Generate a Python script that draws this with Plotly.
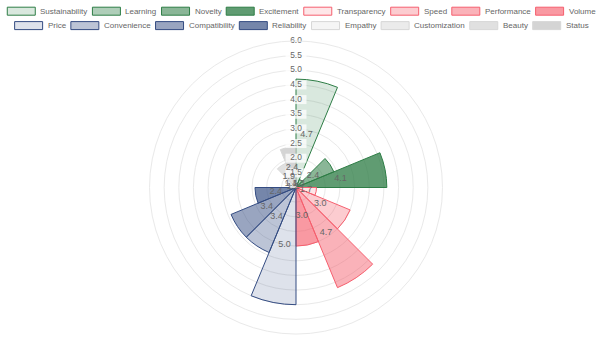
import plotly.graph_objects as go

# ---------------- data ----------------
CATEGORIES = ["Sustainability", "Learning", "Novelty", "Excitement",
              "Transparency", "Speed", "Performance", "Volume",
              "Price", "Convenience", "Compatibility", "Reliability",
              "Empathy", "Customization", "Beauty", "Status"]
VALUES = [4.7, 1.3, 2.4, 4.1,
          1.7, 3.0, 4.7, 3.0,
          5.0, 3.4, 3.4, 2.4,
          1.2, 1.4, 1.9, 2.4]
R_MIN, R_MAX, R_STEP = 1.0, 6.0, 0.5
TICKS = [1.5, 2.0, 2.5, 3.0, 3.5, 4.0, 4.5, 5.0, 5.5, 6.0]

# ---------------- styles ----------------
FILLS = ["rgba(46,125,70,0.18)", "rgba(46,125,70,0.38)", "rgba(46,125,70,0.56)", "rgba(46,125,70,0.76)",
         "rgba(245,85,100,0.15)", "rgba(245,85,100,0.30)", "rgba(245,85,100,0.45)", "rgba(245,85,100,0.60)",
         "rgba(52,76,130,0.16)", "rgba(52,76,130,0.33)", "rgba(52,76,130,0.50)", "rgba(52,76,130,0.68)",
         "rgba(170,170,170,0.12)", "rgba(170,170,170,0.24)", "rgba(170,170,170,0.36)", "rgba(170,170,170,0.50)"]
BORDERS = ["rgb(46,125,70)"] * 4 + ["rgb(245,95,110)"] * 4 + \
          ["rgb(52,76,130)"] * 4 + ["rgb(215,215,215)"] * 4
FONT = "Liberation Sans, Arial, Helvetica, sans-serif"
TXT = "#666666"
GRID = "#e9e9e9"
W, H = 602, 344
CX, CY, RAD = 296, 187.5, 146.5

n = len(CATEGORIES)
step = 360.0 / n
thetas = [i * step + step / 2 for i in range(n)]

fig = go.Figure()
for i, (cat, v) in enumerate(zip(CATEGORIES, VALUES)):
    fig.add_trace(go.Barpolar(
        r=[v - R_MIN], base=[R_MIN], theta=[thetas[i]], width=[step],
        name=cat, marker=dict(color=FILLS[i], line=dict(color=BORDERS[i], width=1)),
        showlegend=False, hoverinfo="skip"))

# tick labels with translucent white backdrop (drawn through the radial scale)
fig.add_trace(go.Scatterpolar(
    r=TICKS, theta=[0] * len(TICKS), mode="markers+text",
    text=[f"{t:.1f}" for t in TICKS], textposition="middle center",
    textfont=dict(family=FONT, size=8.4, color=TXT),
    marker=dict(symbol="line-ew", size=15, color="rgba(255,255,255,0.75)",
                line=dict(width=9, color="rgba(255,255,255,0.75)")),
    showlegend=False, hoverinfo="skip", cliponaxis=False))

# data labels at the centre of each wedge
fig.add_trace(go.Scatterpolar(
    r=[(v + R_MIN) / 2 for v in VALUES], theta=thetas, mode="text",
    text=[f"{v:.1f}" for v in VALUES], textposition="middle center",
    textfont=dict(family=FONT, size=9, color=TXT),
    showlegend=False, hoverinfo="skip", cliponaxis=False))

# ---------------- custom Chart.js-like legend ----------------
AW = {'S': 667, 'L': 556, 'N': 722, 'E': 667, 'T': 611, 'P': 667, 'V': 667, 'C': 722,
      'R': 722, 'B': 667, 'a': 556, 'b': 556, 'c': 500, 'd': 556, 'e': 556, 'f': 278,
      'g': 556, 'h': 556, 'i': 222, 'l': 222, 'm': 833, 'n': 556, 'o': 556, 'p': 556,
      'r': 333, 's': 500, 't': 278, 'u': 556, 'v': 500, 'x': 500, 'y': 500, 'z': 500}
LFS = 8.0
BOXW, BOXH, GAP, PAD = 28, 8, 4, 6
ROW_Y = [11.2, 25.6]
shapes, annotations = [], []
rows = [list(range(0, 8)), list(range(8, 16))]
for ri, row in enumerate(rows):
    widths = [BOXW + GAP + sum(AW.get(ch, 556) for ch in CATEGORIES[i]) * LFS / 1000 for i in row]
    total = sum(widths) + PAD * (len(row) - 1)
    x = W / 2 - total / 2
    y = ROW_Y[ri]
    for i, wd in zip(row, widths):
        shapes.append(dict(type="rect", xref="paper", yref="paper",
                           x0=x / W, x1=(x + BOXW) / W,
                           y0=1 - (y + BOXH / 2) / H, y1=1 - (y - BOXH / 2) / H,
                           fillcolor=FILLS[i], line=dict(color=BORDERS[i], width=1)))
        annotations.append(dict(xref="paper", yref="paper", x=(x + BOXW + GAP - 1) / W,
                                y=1 - y / H, xanchor="left", yanchor="middle",
                                text=CATEGORIES[i], showarrow=False,
                                font=dict(family=FONT, size=LFS, color=TXT)))
        x += wd + PAD

fig.update_layout(
    width=W, height=H, margin=dict(l=0, r=0, t=0, b=0),
    paper_bgcolor="white", plot_bgcolor="white",
    font=dict(family=FONT, color=TXT),
    shapes=shapes, annotations=annotations, showlegend=False,
    polar=dict(
        domain=dict(x=[(CX - RAD) / W, (CX + RAD) / W], y=[1 - (CY + RAD) / H, 1 - (CY - RAD) / H]),
        bgcolor="white", bargap=0, barmode="overlay",
        radialaxis=dict(range=[R_MIN, R_MAX], tick0=R_MIN, dtick=R_STEP,
                        showticklabels=False, ticks="", showline=False,
                        gridcolor=GRID, gridwidth=1),
        angularaxis=dict(direction="clockwise", rotation=90, showgrid=False,
                         showticklabels=False, ticks="", showline=True,
                         linecolor=GRID, linewidth=1),
    ),
)

fig.write_html("out.html")
